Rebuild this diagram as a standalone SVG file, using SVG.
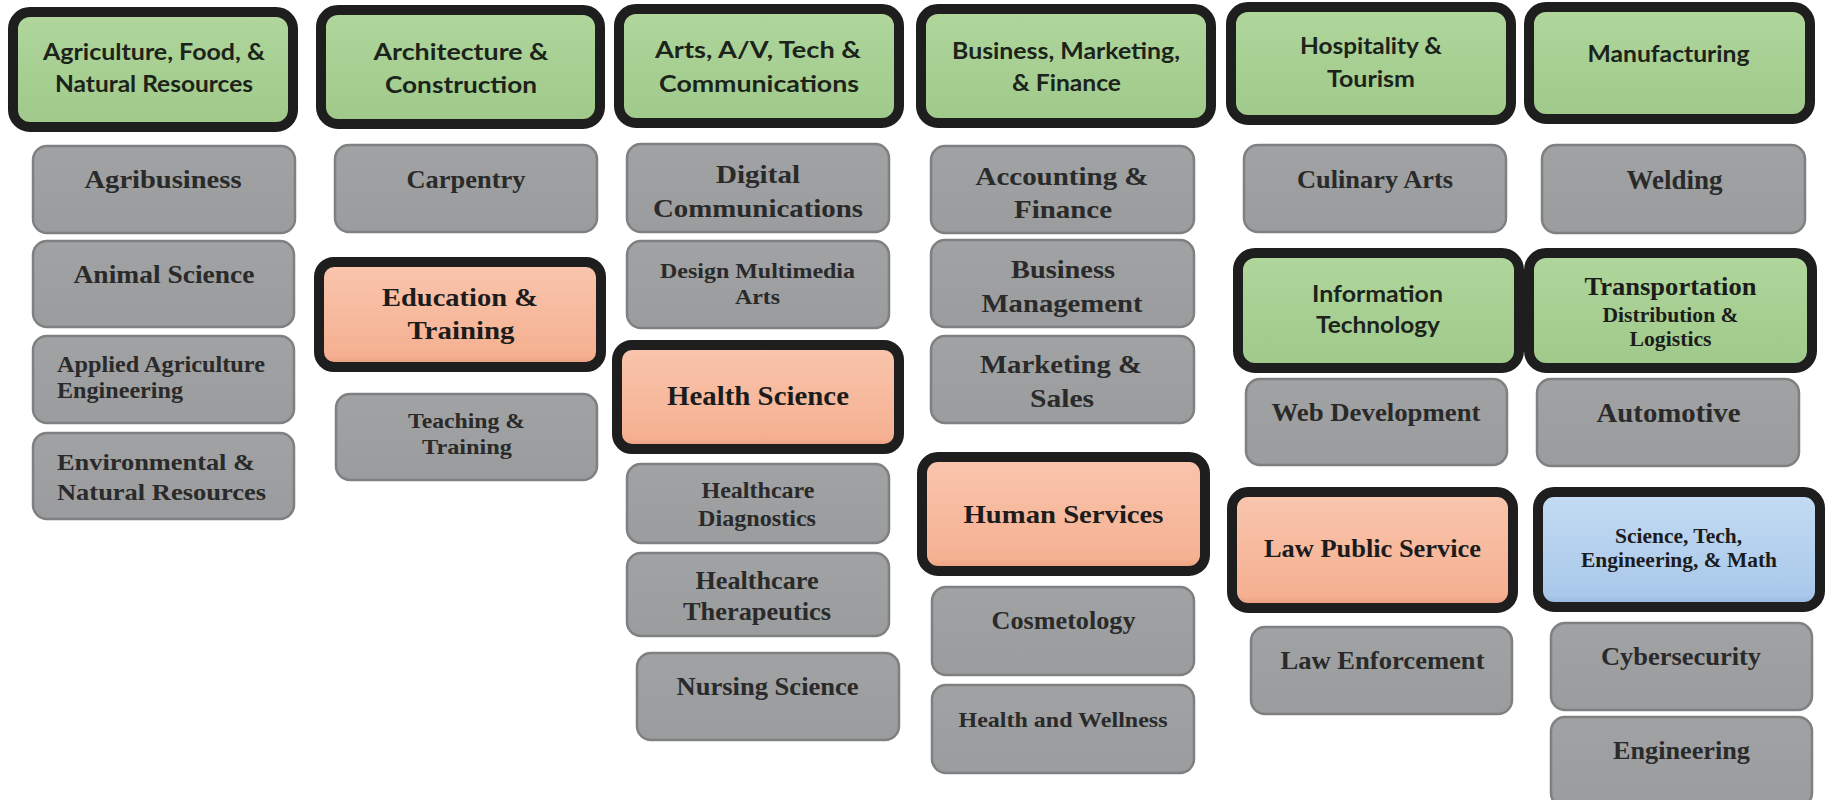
<svg xmlns="http://www.w3.org/2000/svg" width="1828" height="800" viewBox="0 0 1828 800">
<defs>
<linearGradient id="gGreen" x1="0" y1="0" x2="0" y2="1"><stop offset="0" stop-color="#b0d69c"/><stop offset="1" stop-color="#9fc98a"/></linearGradient>
<linearGradient id="gOrange" x1="0" y1="0" x2="0" y2="1"><stop offset="0" stop-color="#f9c6ae"/><stop offset="0.9" stop-color="#f5b091"/><stop offset="1" stop-color="#e3987a"/></linearGradient>
<linearGradient id="gBlue" x1="0" y1="0" x2="0" y2="1"><stop offset="0" stop-color="#c4dcf4"/><stop offset="0.9" stop-color="#a9c8ea"/><stop offset="1" stop-color="#8fb0d6"/></linearGradient>
<linearGradient id="gGray" x1="0" y1="0" x2="0" y2="1"><stop offset="0" stop-color="#a0a2a3"/><stop offset="1" stop-color="#9a9c9d"/></linearGradient>
</defs>
<style>
.hd{stroke:#1e1e1e;stroke-width:10}
.green{fill:url(#gGreen)}
.orange{fill:url(#gOrange)}
.blue{fill:url(#gBlue)}
.gray{fill:url(#gGray);stroke:#7e8081;stroke-width:2.5}
.sans{font-family:Lato,"Liberation Sans",sans-serif;font-weight:bold;font-size:22px;fill:#1c231b;text-anchor:middle}
.ser{font-family:"Liberation Serif","Times New Roman",serif;font-weight:bold;font-size:25px;fill:#2a2a2a;text-anchor:middle}
.dk{fill:#1c1c1c}
.f20{font-size:20px}.f21{font-size:21px}.f22{font-size:22px}.f23{font-size:23px}.f24{font-size:24px}
.f26{font-size:26px}.f27{font-size:27px}.f28{font-size:28px}
.lf{text-anchor:start}
</style>
<rect width="1828" height="800" fill="#ffffff"/>
<g id="connectors"/>

<!-- Column 1 -->
<g id="agriculture"><rect class="hd green" x="13" y="12" width="280" height="115" rx="17"/>
<text class="sans" x="154" y="60" textLength="222" lengthAdjust="spacingAndGlyphs">Agriculture, Food, &amp;</text>
<text class="sans" x="154" y="92" textLength="198" lengthAdjust="spacingAndGlyphs">Natural Resources</text></g>
<g id="agribusiness"><rect class="gray" x="33" y="146" width="262" height="87" rx="14"/>
<text class="ser" x="163" y="188" textLength="157" lengthAdjust="spacingAndGlyphs">Agribusiness</text></g>
<g id="animal-science"><rect class="gray" x="33" y="241" width="261" height="86" rx="14"/>
<text class="ser" x="164" y="283" textLength="181" lengthAdjust="spacingAndGlyphs">Animal Science</text></g>
<g id="applied-agriculture"><rect class="gray" x="33" y="336" width="261" height="87" rx="14"/>
<text class="ser f23 lf" x="57" y="372" textLength="208" lengthAdjust="spacingAndGlyphs">Applied Agriculture</text>
<text class="ser f23 lf" x="57" y="398" textLength="126" lengthAdjust="spacingAndGlyphs">Engineering</text></g>
<g id="environmental"><rect class="gray" x="33" y="433" width="261" height="86" rx="14"/>
<text class="ser f23 lf" x="57" y="470" textLength="198" lengthAdjust="spacingAndGlyphs">Environmental &amp;</text>
<text class="ser f23 lf" x="57" y="500" textLength="209" lengthAdjust="spacingAndGlyphs">Natural Resources</text></g>

<!-- Column 2 -->
<g id="architecture"><rect class="hd green" x="321" y="10" width="279" height="114" rx="17"/>
<text class="sans" x="461" y="60" textLength="175" lengthAdjust="spacingAndGlyphs">Architecture &amp;</text>
<text class="sans" x="461" y="93" textLength="152" lengthAdjust="spacingAndGlyphs">Construction</text></g>
<g id="carpentry"><rect class="gray" x="335" y="145" width="262" height="87" rx="14"/>
<text class="ser" x="466" y="188" textLength="119" lengthAdjust="spacingAndGlyphs">Carpentry</text></g>
<g id="education"><rect class="hd orange" x="319" y="262" width="282" height="105" rx="15"/>
<text class="ser f26 dk" x="460" y="306" textLength="156" lengthAdjust="spacingAndGlyphs">Education &amp;</text>
<text class="ser f26 dk" x="461" y="339" textLength="107" lengthAdjust="spacingAndGlyphs">Training</text></g>
<g id="teaching"><rect class="gray" x="336" y="394" width="261" height="86" rx="14"/>
<text class="ser f22" x="466.5" y="428" textLength="117" lengthAdjust="spacingAndGlyphs">Teaching &amp;</text>
<text class="ser f22" x="467" y="454" textLength="90" lengthAdjust="spacingAndGlyphs">Training</text></g>

<!-- Column 3 -->
<g id="arts"><rect class="hd green" x="619" y="9" width="280" height="114" rx="17"/>
<text class="sans" x="758" y="58" textLength="206" lengthAdjust="spacingAndGlyphs">Arts, A/V, Tech &amp;</text>
<text class="sans" x="759" y="92" textLength="200" lengthAdjust="spacingAndGlyphs">Communications</text></g>
<g id="digital"><rect class="gray" x="627" y="144" width="262" height="88" rx="14"/>
<text class="ser f26" x="758" y="183" textLength="84" lengthAdjust="spacingAndGlyphs">Digital</text>
<text class="ser f26" x="758" y="217" textLength="210" lengthAdjust="spacingAndGlyphs">Communications</text></g>
<g id="design"><rect class="gray" x="627" y="241" width="262" height="87" rx="14"/>
<text class="ser f22" x="757.5" y="278" textLength="195" lengthAdjust="spacingAndGlyphs">Design Multimedia</text>
<text class="ser f22" x="757.5" y="304" textLength="45" lengthAdjust="spacingAndGlyphs">Arts</text></g>
<g id="health-science"><rect class="hd orange" x="617" y="345" width="282" height="104" rx="15"/>
<text class="ser f27 dk" x="758" y="405" textLength="182" lengthAdjust="spacingAndGlyphs">Health Science</text></g>
<g id="diagnostics"><rect class="gray" x="627" y="464" width="262" height="79" rx="14"/>
<text class="ser f23" x="758" y="498" textLength="113" lengthAdjust="spacingAndGlyphs">Healthcare</text>
<text class="ser f23" x="757" y="526" textLength="118" lengthAdjust="spacingAndGlyphs">Diagnostics</text></g>
<g id="therapeutics"><rect class="gray" x="627" y="553" width="262" height="83" rx="14"/>
<text class="ser" x="757" y="589" textLength="123" lengthAdjust="spacingAndGlyphs">Healthcare</text>
<text class="ser" x="757" y="620" textLength="148" lengthAdjust="spacingAndGlyphs">Therapeutics</text></g>
<g id="nursing"><rect class="gray" x="637" y="653" width="262" height="87" rx="14"/>
<text class="ser f26" x="767.6" y="695" textLength="182" lengthAdjust="spacingAndGlyphs">Nursing Science</text></g>

<!-- Column 4 -->
<g id="business"><rect class="hd green" x="921" y="9" width="290" height="114" rx="17"/>
<text class="sans" x="1066" y="59" textLength="228" lengthAdjust="spacingAndGlyphs">Business, Marketing,</text>
<text class="sans" x="1066.5" y="91" textLength="109" lengthAdjust="spacingAndGlyphs">&amp; Finance</text></g>
<g id="accounting"><rect class="gray" x="931" y="146" width="263" height="87" rx="14"/>
<text class="ser f26" x="1062" y="185" textLength="173" lengthAdjust="spacingAndGlyphs">Accounting &amp;</text>
<text class="ser f26" x="1063" y="218" textLength="98" lengthAdjust="spacingAndGlyphs">Finance</text></g>
<g id="business-management"><rect class="gray" x="931" y="240" width="263" height="87" rx="14"/>
<text class="ser" x="1063" y="278" textLength="104" lengthAdjust="spacingAndGlyphs">Business</text>
<text class="ser" x="1062" y="312" textLength="161" lengthAdjust="spacingAndGlyphs">Management</text></g>
<g id="marketing"><rect class="gray" x="931" y="336" width="263" height="87" rx="14"/>
<text class="ser" x="1061" y="373" textLength="162" lengthAdjust="spacingAndGlyphs">Marketing &amp;</text>
<text class="ser" x="1062" y="407" textLength="64" lengthAdjust="spacingAndGlyphs">Sales</text></g>
<g id="human-services"><rect class="hd orange" x="922" y="457" width="283" height="114" rx="16"/>
<text class="ser f26 dk" x="1063.5" y="523" textLength="200" lengthAdjust="spacingAndGlyphs">Human Services</text></g>
<g id="cosmetology"><rect class="gray" x="932" y="587" width="262" height="88" rx="14"/>
<text class="ser" x="1063.5" y="629" textLength="144" lengthAdjust="spacingAndGlyphs">Cosmetology</text></g>
<g id="health-wellness"><rect class="gray" x="932" y="685" width="262" height="88" rx="14"/>
<text class="ser f22" x="1063" y="727" textLength="209" lengthAdjust="spacingAndGlyphs">Health and Wellness</text></g>

<!-- Column 5 -->
<g id="hospitality"><rect class="hd green" x="1231" y="7" width="280" height="113" rx="17"/>
<text class="sans" x="1371" y="54" textLength="142" lengthAdjust="spacingAndGlyphs">Hospitality &amp;</text>
<text class="sans" x="1371" y="87" textLength="88" lengthAdjust="spacingAndGlyphs">Tourism</text></g>
<g id="culinary"><rect class="gray" x="1244" y="145" width="262" height="87" rx="14"/>
<text class="ser" x="1375" y="188" textLength="156" lengthAdjust="spacingAndGlyphs">Culinary Arts</text></g>
<g id="information-technology"><rect class="hd green" x="1238" y="253" width="281" height="115" rx="17"/>
<text class="sans" x="1377.5" y="302" textLength="131" lengthAdjust="spacingAndGlyphs">Information</text>
<text class="sans" x="1378" y="333" textLength="124" lengthAdjust="spacingAndGlyphs">Technology</text></g>
<g id="web-development"><rect class="gray" x="1246" y="379" width="261" height="86" rx="14"/>
<text class="ser" x="1376" y="421" textLength="209" lengthAdjust="spacingAndGlyphs">Web Development</text></g>
<g id="law-public-service"><rect class="hd orange" x="1232" y="492" width="281" height="116" rx="16"/>
<text class="ser dk" x="1372.5" y="557" textLength="217" lengthAdjust="spacingAndGlyphs">Law Public Service</text></g>
<g id="law-enforcement"><rect class="gray" x="1251" y="627" width="261" height="87" rx="14"/>
<text class="ser" x="1382.5" y="669" textLength="204" lengthAdjust="spacingAndGlyphs">Law Enforcement</text></g>

<!-- Column 6 -->
<g id="manufacturing"><rect class="hd green" x="1529" y="7" width="281" height="112" rx="17"/>
<text class="sans" x="1668.5" y="62" textLength="162" lengthAdjust="spacingAndGlyphs">Manufacturing</text></g>
<g id="welding"><rect class="gray" x="1542" y="145" width="263" height="88" rx="14"/>
<text class="ser f27" x="1674.5" y="189" textLength="96" lengthAdjust="spacingAndGlyphs">Welding</text></g>
<g id="transportation"><rect class="hd green" x="1529" y="253" width="283" height="115" rx="17"/>
<text class="ser dk" x="1670.5" y="295" textLength="172" lengthAdjust="spacingAndGlyphs">Transportation</text>
<text class="ser f20 dk" x="1670.5" y="322" textLength="136" lengthAdjust="spacingAndGlyphs">Distribution &amp;</text>
<text class="ser f20 dk" x="1670.5" y="346" textLength="82" lengthAdjust="spacingAndGlyphs">Logistics</text></g>
<g id="automotive"><rect class="gray" x="1537" y="379" width="262" height="87" rx="14"/>
<text class="ser f28" x="1668.5" y="422" textLength="144" lengthAdjust="spacingAndGlyphs">Automotive</text></g>
<g id="stem"><rect class="hd blue" x="1538" y="492" width="282" height="115" rx="16"/>
<text class="ser f21 dk" x="1678.5" y="543" textLength="127" lengthAdjust="spacingAndGlyphs">Science, Tech,</text>
<text class="ser f21 dk" x="1679" y="567" textLength="196" lengthAdjust="spacingAndGlyphs">Engineering, &amp; Math</text></g>
<g id="cybersecurity"><rect class="gray" x="1551" y="623" width="261" height="87" rx="14"/>
<text class="ser f26" x="1681" y="665" textLength="160" lengthAdjust="spacingAndGlyphs">Cybersecurity</text></g>
<g id="engineering"><rect class="gray" x="1551" y="717" width="261" height="90" rx="14"/>
<text class="ser" x="1681.5" y="759" textLength="137" lengthAdjust="spacingAndGlyphs">Engineering</text></g>
</svg>
